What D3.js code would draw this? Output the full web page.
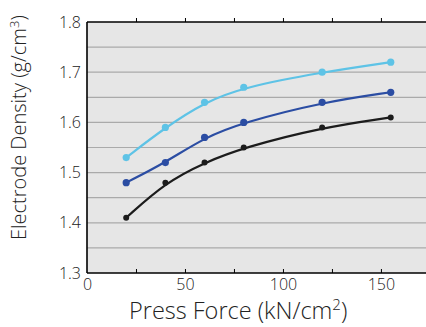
<!DOCTYPE html>
<html>
<head>
<meta charset="utf-8">
<script src="https://cdn.jsdelivr.net/npm/d3@7"></script>
<style>
  body { margin: 0; background: #fff; }
  text { font-family: "Open Sans", "Liberation Sans", sans-serif; font-weight: 300; fill: #222; }
</style>
</head>
<body>
<div id="chart"></div>
<script>
// press force (kN/cm2) at which each sample was measured
var pressForce = [20, 40, 60, 80, 120, 155];
// electrode density (g/cm3), one array per series
var densityLight = [1.53, 1.59, 1.64, 1.67, 1.70, 1.72];
var densityBlue = [1.48, 1.52, 1.57, 1.60, 1.64, 1.66];
var densityBlack = [1.41, 1.48, 1.52, 1.55, 1.59, 1.61];
var xTicks = [0, 50, 100, 150];
var yTicks = [1.3, 1.4, 1.5, 1.6, 1.7, 1.8];

var margin = {top: 22, right: 0, bottom: 54, left: 87},
    width = 426 - margin.left - margin.right,
    height = 327 - margin.top - margin.bottom;

var x = d3.scaleLinear().domain([0, 173]).range([0, width]);
var y = d3.scaleLinear().domain([1.3, 1.8]).range([height, 0]);

var root = d3.select("#chart")
    .append("svg")
        .attr("width", 426)
        .attr("height", 327);
var svg = root.append("g")
        .attr("transform", "translate(" + margin.left + "," + margin.top + ")");

// plot background
svg.append("rect")
    .attr("width", width).attr("height", height)
    .attr("fill", "#e6e6e6");

// horizontal grid every 0.05
svg.append("g")
    .selectAll("line")
    .data(d3.range(1.35, 1.79, 0.05))
    .enter().append("line")
        .attr("x1", 0).attr("x2", width)
        .attr("y1", function(d) { return y(d); })
        .attr("y2", function(d) { return y(d); })
        .attr("stroke", "#aaaaaa").attr("stroke-width", 1.2);

// top and bottom borders with inward ticks
var minorX = d3.range(25, 175, 25);
svg.append("g")
    .call(d3.axisBottom(x).tickValues(minorX).tickSize(-4).tickFormat(""))
    .call(function(g) { g.select(".domain").attr("d", "M0,0H" + width).attr("stroke-width", 1.6); });
svg.append("g")
    .attr("transform", "translate(0," + height + ")")
    .call(d3.axisTop(x).tickValues(minorX).tickSize(4).tickFormat(""))
    .call(function(g) { g.select(".domain").attr("d", "M0,0H" + width).attr("stroke-width", 1.6); });
svg.append("line")
    .attr("x1", 0).attr("x2", 0).attr("y1", 0).attr("y2", height)
    .attr("stroke", "#000").attr("stroke-width", 1.6);

// tick labels
var xAxis = svg.append("g")
    .attr("transform", "translate(0," + height + ")")
    .call(d3.axisBottom(x).tickValues(xTicks).tickSize(0).tickPadding(6));
xAxis.select(".domain").remove();
xAxis.selectAll("text").style("font-size", "16px").attr("fill", "#222");

var yAxis = svg.append("g")
    .call(d3.axisLeft(y).tickValues(yTicks).tickSize(0).tickPadding(6).tickFormat(d3.format(".1f")));
yAxis.select(".domain").remove();
yAxis.selectAll("text").style("font-size", "16px").attr("fill", "#222");
svg.selectAll(".tick text").style("font-family", "'Open Sans', sans-serif").style("font-weight", 300);

// series
var series = [
    {values: densityBlack, color: "#1c1c1c", r: 3},
    {values: densityBlue, color: "#2b4da3", r: 3.6},
    {values: densityLight, color: "#5ec3e6", r: 3.6}
];

var line = d3.line()
    .x(function(d) { return x(d[0]); })
    .y(function(d) { return y(d[1]); })
    .curve(d3.curveBasis);

series.forEach(function(s) {
    var pts = pressForce.map(function(f, i) { return [f, s.values[i]]; });
    svg.append("path")
        .datum(pts)
        .attr("d", line)
        .attr("fill", "none")
        .attr("stroke", s.color)
        .attr("stroke-width", 2.2);
    svg.append("g").selectAll("circle")
        .data(pts)
        .enter().append("circle")
            .attr("cx", function(d) { return x(d[0]); })
            .attr("cy", function(d) { return y(d[1]); })
            .attr("r", s.r)
            .attr("fill", s.color);
});

// axis titles
var xt = root.append("text")
    .attr("x", 129).attr("y", 319)
    .style("text-anchor", "start").style("font-size", "23.5px").attr("fill", "#333");
xt.append("tspan").text("Press Force (kN/cm");
xt.append("tspan").text("2").attr("dy", -9).style("font-size", "15px");
xt.append("tspan").text(")").attr("dy", 9);

var yt = root.append("text")
    .attr("transform", "translate(26,240) rotate(-90)")
    .style("text-anchor", "start").style("font-size", "20px").attr("fill", "#333");
yt.append("tspan").text("Electrode Density (g/cm");
yt.append("tspan").text("3").attr("dy", -7).style("font-size", "13px");
yt.append("tspan").text(")").attr("dy", 7);
</script>
</body>
</html>
